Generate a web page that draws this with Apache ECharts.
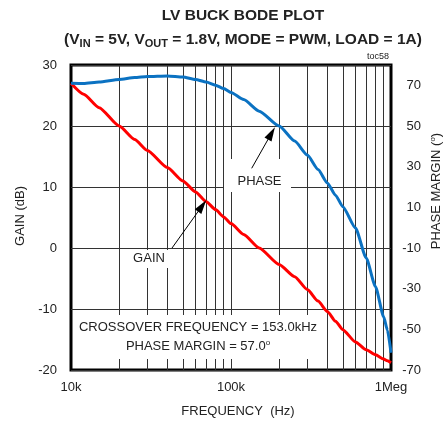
<!DOCTYPE html>
<html>
<head>
<meta charset="utf-8">
<title>LV Buck Bode Plot</title>
<script src="https://cdn.jsdelivr.net/npm/echarts@6/dist/echarts.min.js"></script>
<style>
  html, body { margin: 0; padding: 0; background: #fff; }
  #chart { width: 443px; height: 428px; }
</style>
</head>
<body>
<div id="chart"></div>
<script>
// frequency points (Hz)
const freq = [10e3, 12e3, 15e3, 20e3, 25e3, 30e3, 40e3, 50e3, 60e3, 70e3, 80e3, 90e3, 100e3, 120e3, 150e3,
  200e3, 250e3, 300e3, 350e3, 400e3, 450e3, 500e3, 600e3, 700e3, 800e3, 900e3, 950e3, 1000e3]
// gain (dB), left axis
const gainDb = [27.0, 25.2, 23.0, 20.0, 17.8, 16.0, 13.2, 11.0, 9.2, 7.6, 6.3, 5.1, 4.0, 2.2, 0.0,
  -2.7, -4.7, -6.8, -8.7, -10.4, -12.0, -13.4, -15.4, -16.7, -17.5, -18.2, -18.5, -18.8]
// phase margin (deg), right axis
const phaseDeg = [71.0, 70.9, 71.6, 72.9, 73.8, 74.3, 74.6, 74.1, 72.9, 71.6, 70.1, 68.4, 66.5, 63.0, 57.3,
  50.0, 42.6, 35.7, 28.6, 22.0, 16.0, 10.3, -0.2, -14.9, -29.0, -43.8, -50.5, -61.5]

const xTickValues = [10e3, 100e3, 1000e3]
const xTickLabels = ['10k', '100k', '1Meg']
// vertical log grid lines
const gridFreqs = [20e3, 30e3, 40e3, 50e3, 60e3, 70e3, 80e3, 90e3, 100e3,
  200e3, 300e3, 400e3, 500e3, 600e3, 700e3, 800e3, 900e3]

const font = "'Liberation Sans', Arial, sans-serif"
const txt = '#222'
const gridColor = '#333'

const gainData = freq.map((f, i) => [f, gainDb[i]])
const phaseData = freq.map((f, i) => [f, phaseDeg[i]])

const arrowStyle = { color: '#000', width: 1, type: 'solid' }

const option = {
  animation: false,
  textStyle: { fontFamily: font, color: txt },
  title: [
    {
      text: 'LV BUCK BODE PLOT',
      left: 238, top: 3, textAlign: 'center',
      textStyle: { fontFamily: font, fontSize: 15.5, fontWeight: 'bold', color: txt },
    },
    {
      text: '(V{s|IN} = 5V, V{s|OUT} = 1.8V, MODE = PWM, LOAD = 1A)',
      left: 238, top: 25, textAlign: 'center',
      textStyle: {
        fontFamily: font, fontSize: 15.5, fontWeight: 'bold', color: txt,
        rich: { s: { fontFamily: font, fontSize: 11, fontWeight: 'bold', color: txt, verticalAlign: 'bottom', padding: [8, 0, 0, 0] } },
      },
    },
  ],
  grid: { left: 71, right: 52, top: 65, bottom: 58, show: true, borderColor: '#000', borderWidth: 3, backgroundColor: 'transparent' },
  xAxis: {
    type: 'log', logBase: 10, min: 10e3, max: 1000e3,
    axisLine: { show: false }, axisTick: { show: false }, splitLine: { show: false },
    axisLabel: {
      margin: 11, fontSize: 13, color: txt, fontFamily: font,
      formatter: (v) => {
        const k = xTickValues.findIndex((t) => Math.abs(t - v) / t < 1e-6)
        return k >= 0 ? xTickLabels[k] : ''
      },
    },
  },
  yAxis: [
    {
      type: 'value', min: -20, max: 30, interval: 10,
      axisLine: { show: false }, axisTick: { show: false },
      splitLine: { show: true, lineStyle: { color: gridColor, width: 1 } },
      axisLabel: { margin: 14, fontSize: 13, color: txt, fontFamily: font },
    },
    {
      type: 'value', min: -70, max: 80, interval: 10,
      axisLine: { show: false }, axisTick: { show: false }, splitLine: { show: false },
      axisLabel: {
        margin: 30, align: 'right', fontSize: 13, color: txt, fontFamily: font,
        formatter: (v) => ((v + 70) % 20 === 0 && v <= 70 ? String(v) : ''),
      },
    },
  ],
  graphic: [
    // white label boxes that cut the grid
    { type: 'rect', z: 10, shape: { x: 224, y: 159, width: 67, height: 33 }, style: { fill: '#fff' } },
    { type: 'rect', z: 10, shape: { x: 124, y: 250, width: 54, height: 18 }, style: { fill: '#fff' } },
    { type: 'rect', z: 10, shape: { x: 73, y: 315, width: 250, height: 44 }, style: { fill: '#fff' } },
    { type: 'text', z: 11, x: 259.5, y: 181, style: { text: 'PHASE', font: '13px ' + font, fill: txt, align: 'center', verticalAlign: 'middle' } },
    { type: 'text', z: 11, x: 149, y: 258, style: { text: 'GAIN', font: '13px ' + font, fill: txt, align: 'center', verticalAlign: 'middle' } },
    { type: 'text', z: 11, x: 198, y: 327.5, style: { text: 'CROSSOVER FREQUENCY = 153.0kHz', font: '13px ' + font, fill: txt, align: 'center', verticalAlign: 'middle' } },
    {
      type: 'text', z: 11, x: 198, y: 346,
      style: {
        text: 'PHASE MARGIN = 57.0{o|o}', font: '13px ' + font, fill: txt, align: 'center', verticalAlign: 'middle',
        rich: { o: { fontSize: 8, fontFamily: font, fill: txt, verticalAlign: 'top', padding: [0, 0, 6, 0] } },
      },
    },
    { type: 'text', z: 11, x: 389, y: 57, style: { text: 'toc58', font: '9px ' + font, fill: txt, align: 'right', verticalAlign: 'middle' } },
    // axis titles
    { type: 'text', z: 11, x: 238, y: 411, style: { text: 'FREQUENCY  (Hz)', font: '13px ' + font, fill: txt, align: 'center', verticalAlign: 'middle' } },
    { type: 'text', z: 11, x: 20, y: 216, rotation: Math.PI / 2, style: { text: 'GAIN (dB)', font: '13px ' + font, fill: txt, align: 'center', verticalAlign: 'middle' } },
    {
      type: 'text', z: 11, x: 436, y: 191, rotation: Math.PI / 2,
      style: {
        text: 'PHASE MARGIN ({o|o})', font: '13px ' + font, fill: txt, align: 'center', verticalAlign: 'middle',
        rich: { o: { fontSize: 8, fontFamily: font, fill: txt, verticalAlign: 'top', padding: [0, 0, 6, 0] } },
      },
    },
  ],
  series: [
    {
      // carries the log grid lines
      name: 'grid', type: 'line', data: gainData, showSymbol: false, silent: true, z: 1,
      lineStyle: { opacity: 0 },
      markLine: {
        z: 1, silent: true, symbol: ['none', 'none'], label: { show: false },
        lineStyle: { color: gridColor, width: 1, type: 'solid' },
        data: gridFreqs.map((f) => ({ xAxis: f })),
      },
    },
    {
      name: 'GAIN', type: 'line', zlevel: 1, data: gainData, smooth: 0.2, smoothMonotone: 'x', showSymbol: false, z: 6,
      lineStyle: { color: '#ff0000', width: 3 }, itemStyle: { color: '#ff0000' },
      markLine: {
        zlevel: 1, z: 12, silent: true, label: { show: false }, lineStyle: arrowStyle, itemStyle: { color: '#000' },
        data: [[
          { coord: [42.8e3, 0], symbol: 'none' },
          { coord: [66.0e3, 6.9], symbol: 'triangle', symbolSize: [8, 14] },
        ]],
      },
    },
    {
      name: 'PHASE', type: 'line', zlevel: 1, yAxisIndex: 1, data: phaseData, smooth: 0.2, smoothMonotone: 'x', showSymbol: false, z: 6,
      lineStyle: { color: '#0b72c2', width: 3 }, itemStyle: { color: '#0b72c2' },
      markLine: {
        zlevel: 1, z: 12, silent: true, label: { show: false }, lineStyle: arrowStyle, itemStyle: { color: '#000' },
        data: [[
          { coord: [134.7e3, 29.2], symbol: 'none' },
          { coord: [179.0e3, 46.4], symbol: 'triangle', symbolSize: [8, 14] },
        ]],
      },
    },
  ],
}

const chart = echarts.init(document.getElementById('chart'))
chart.setOption(option)
</script>
</body>
</html>
